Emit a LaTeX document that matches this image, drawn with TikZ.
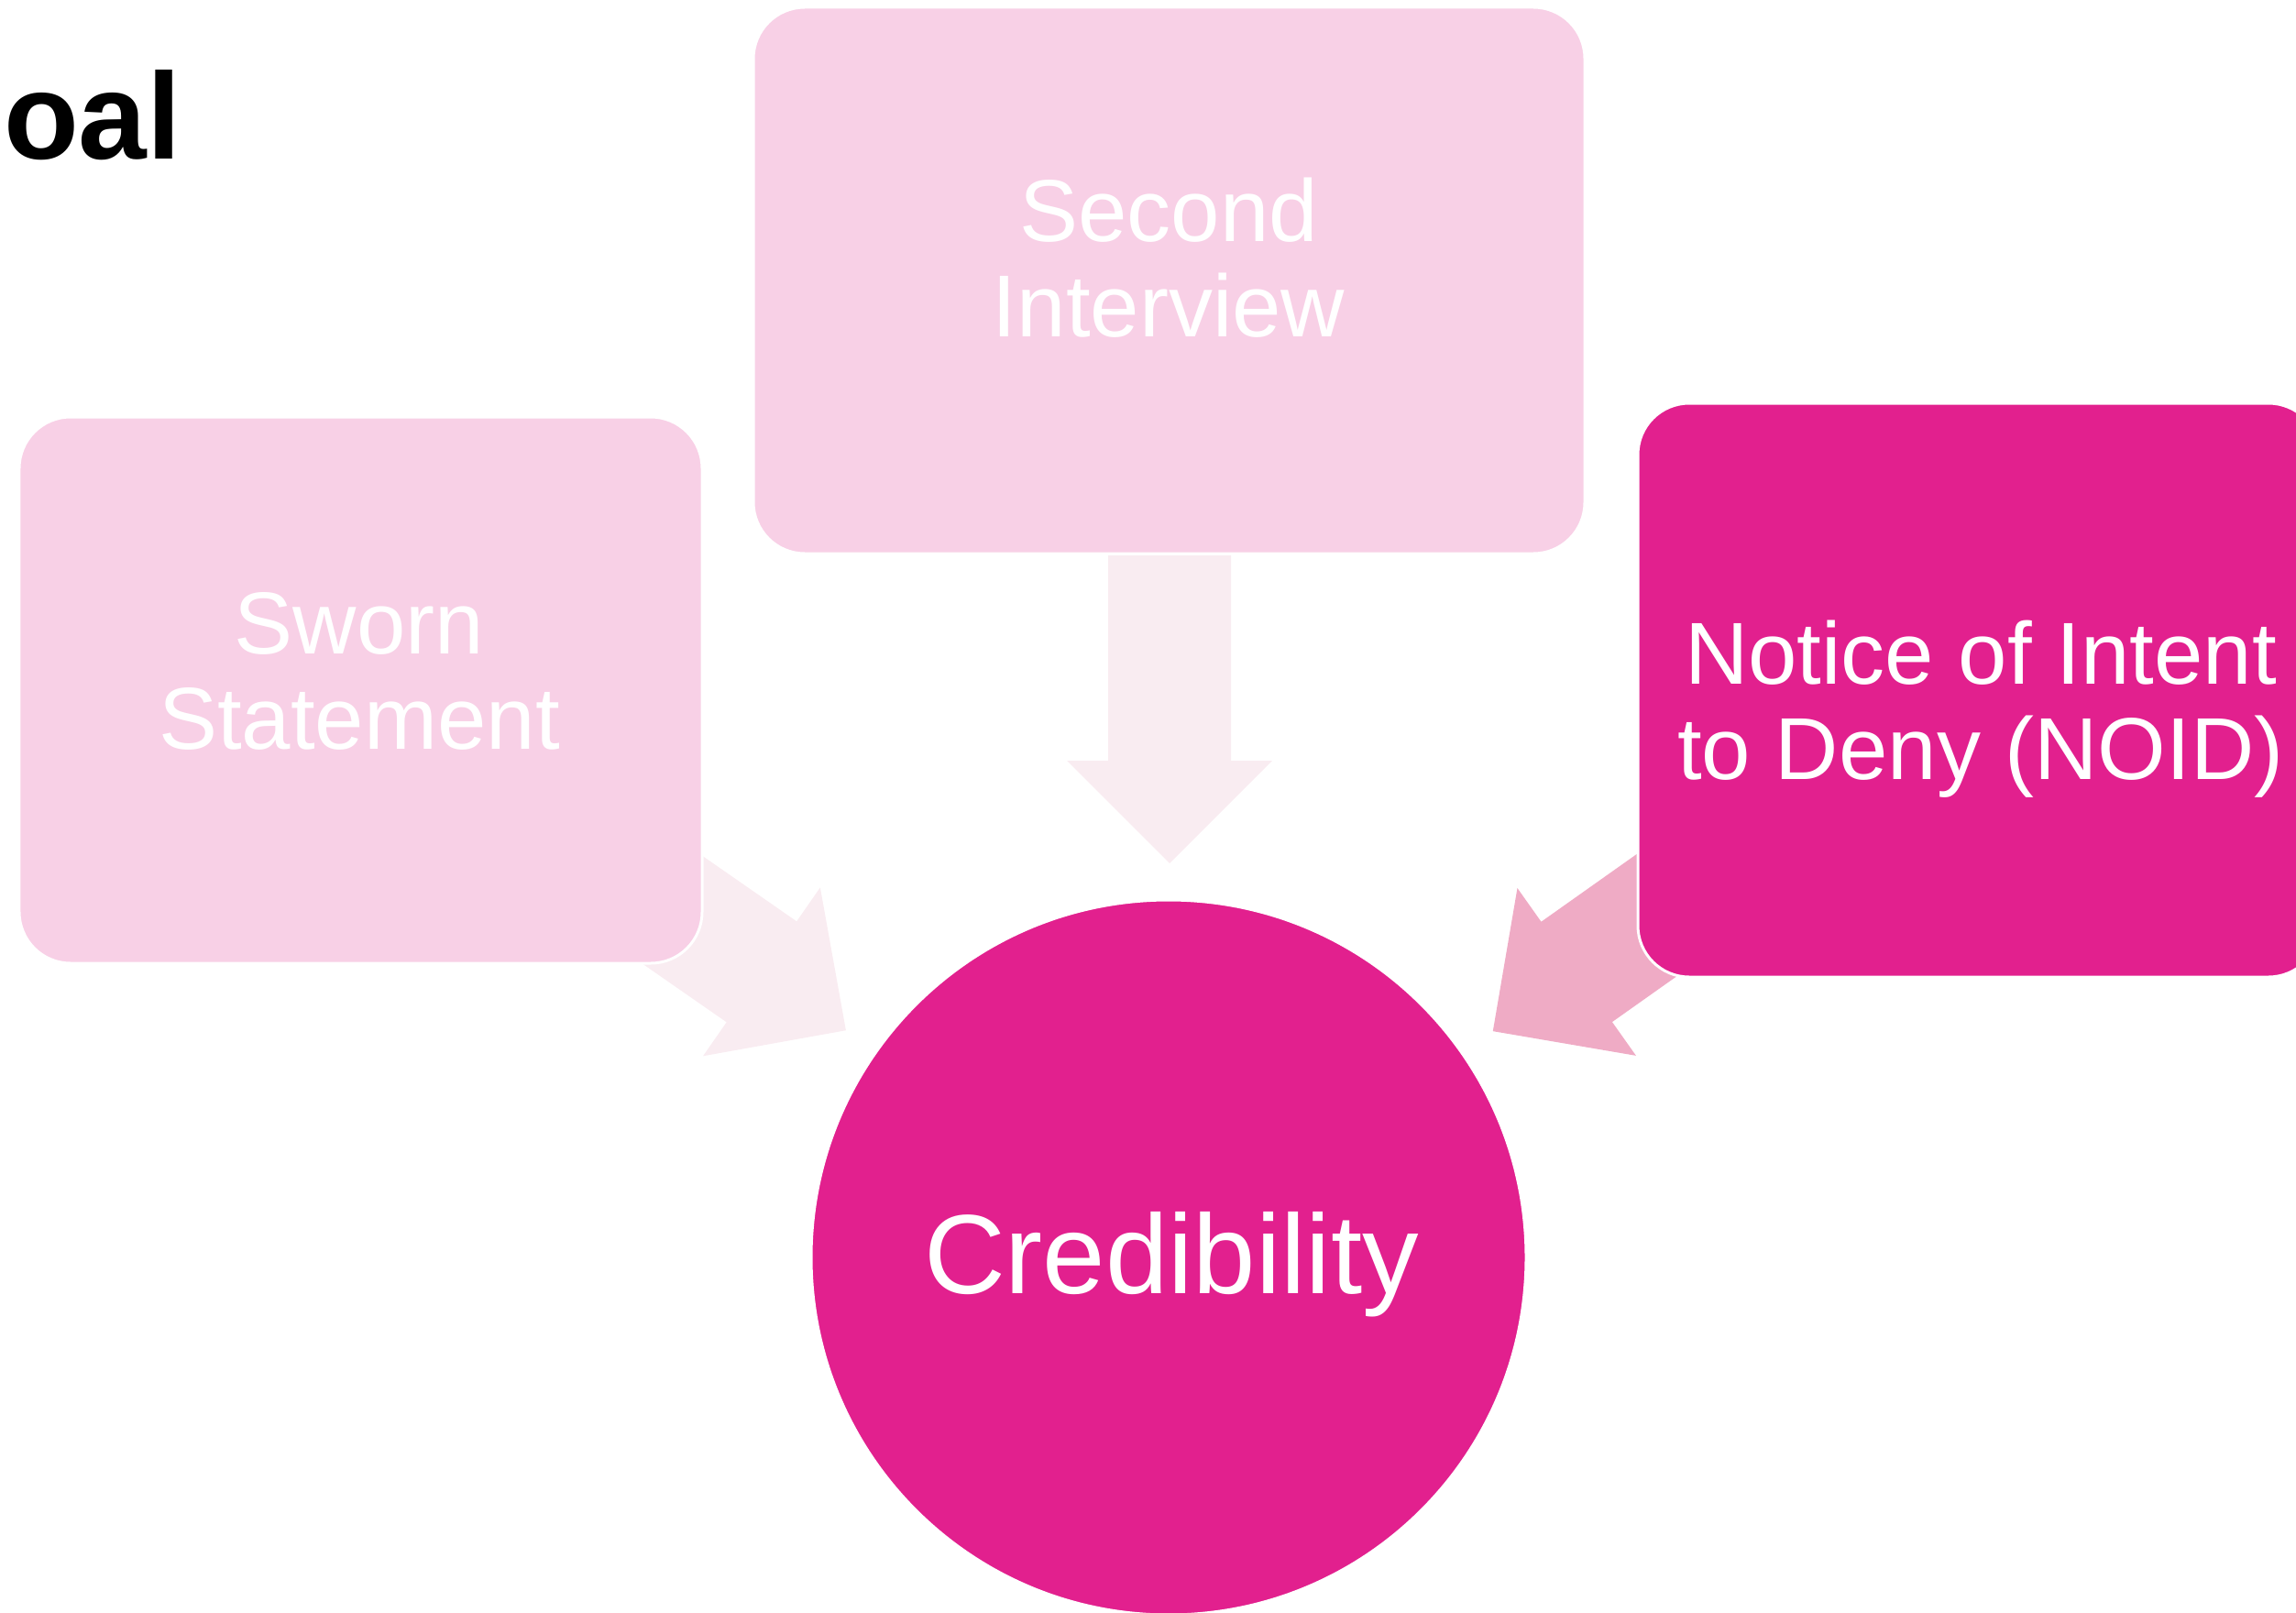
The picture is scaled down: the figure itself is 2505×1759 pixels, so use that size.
\documentclass[tikz,border=0pt]{standalone}
\usepackage{fontspec}
\setmainfont{Liberation Sans}
\definecolor{magent}{HTML}{E2208E}
\definecolor{lightbox}{HTML}{F8D0E6}
\definecolor{lightarrow}{HTML}{F9ECF1}
\definecolor{midarrow}{HTML}{EFABC5}
\newcommand\blockarrow[3]{%
  \fill[#1, shift={#2}, rotate=#3] (0,-67) -- (224,-67) -- (224,-112) -- (336,0)
    -- (224,112) -- (224,67) -- (0,67) -- cycle;}
\begin{document}
\begin{tikzpicture}[x=0.2pt, y=-0.2pt,
  boxshape/.style={draw=white, line width=0.6pt, rounded corners=11.2pt, inner sep=0pt},
  lbl/.style={text=white, align=center, inner sep=0pt, font=\fontsize{19.2}{20.8}\selectfont}]
\useasboundingbox (0,0) rectangle (2505,1759);
\clip (0,0) rectangle (2505,1759);
% block arrows
\blockarrow{lightarrow}{(647,932.5)}{-34.8}
\blockarrow{lightarrow}{(1276,606)}{-90}
\blockarrow{midarrow}{(1903,931)}{-144.7}
% boxes
\node (sworn) [boxshape, fill=lightbox, minimum width=149pt, minimum height=119.2pt] at (393.5,753) {};
\node (second) [boxshape, fill=lightbox, minimum width=181.4pt, minimum height=119.2pt] at (1275.5,306) {};
\node (noid) [boxshape, fill=magent, minimum width=148.8pt, minimum height=125.2pt] at (2159,753) {};
\node (cred) [circle, draw=white, line width=0.6pt, fill=magent, minimum size=156pt, inner sep=0pt] at (1275,1372) {};
% labels
\node (tsworn) [lbl, anchor=base] at (392,817) {Sworn\\Statement};
\node (tsecond) [lbl, anchor=base] at (1275,367) {Second\\Interview};
\node (tnoid) [lbl, anchor=base] at (2161,850) {Notice of Intent\\to Deny (NOID)};
\node (tcred) [text=white, inner sep=0pt, anchor=base, font=\fontsize{24.6}{28}\selectfont] at (1278,1411) {Credibility};
\node (title) [inner sep=0pt, anchor=base west, font=\fontsize{26.8}{30}\selectfont\bfseries] at (3,173) {oal};
\end{tikzpicture}
\end{document}
